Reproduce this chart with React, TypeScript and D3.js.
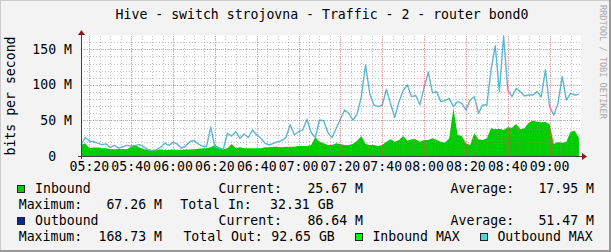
import React from "react";
import * as d3 from "d3";

// ---- data (values in Mbit/s), one sample every 2 minutes starting 05:16 ----
const inbound: number[] = [
  15.5, 18, 11, 12, 12, 11, 11, 10, 9.5, 10, 10, 9.5, 13, 15, 12, 10, 8.5, 8, 8, 9,
  8.5, 8.5, 9, 8.5, 8.5, 9, 9, 9.4, 10.3, 10.8, 10.8, 12.2, 15.5, 12.2, 9.4, 10.8, 16.9, 10.8, 12.2, 10.8,
  10.8, 10.8, 10.8, 10.8, 12.2, 12.2, 13.1, 13.1, 12.2, 13.1, 13.1, 13.1, 14.1, 14.1, 14.1, 15.5, 26.2, 20.2, 17.8, 15.5,
  15.5, 17.8, 16.9, 15.5, 15.5, 16.9, 21.6, 28.1, 16.9, 15.5, 15.5, 14.1, 15.5, 20.2, 23.4, 20.2, 22.5, 28.1, 21.6, 23.4,
  23.4, 20.2, 22.5, 22.5, 24.8, 22.5, 20.2, 18.7, 25, 67.26, 30, 28.1, 17.8, 15.5, 31.9, 23.4, 22.5, 24.8, 38.9, 37.5,
  38.4, 36.6, 40.3, 39.8, 45, 37.5, 38.9, 46.9, 49.7, 48.3, 47.3, 47.8, 44.5, 16.9, 19.7, 18.7, 20.2, 34.2, 35.6, 25.67,
];
const outboundMax: number[] = [
  15.5, 26, 21, 20, 18, 16, 17, 12, 15, 11, 13, 15, 14, 15, 16, 13, 9, 7.5, 9, 12,
  18, 15, 19, 17, 11, 14, 20, 22, 17, 14, 13, 41, 13, 11, 9.4, 32, 28, 34, 25, 31,
  26, 36.6, 29.5, 25, 17.8, 15.5, 17.8, 20, 21.6, 26, 44, 29.5, 34, 36.6, 51.6, 33, 26, 50.6, 49.7, 33,
  25.8, 38.9, 51.6, 64.7, 60, 50.6, 59, 83.4, 128, 88, 71.7, 69.4, 71.7, 93.8, 73, 54.4, 76.4, 92, 100, 83.4,
  85, 72, 96.6, 118, 89, 90.5, 76.4, 77.8, 81, 69.4, 76.4, 74, 64.7, 78.7, 83.4, 60, 71.7, 71.7, 121, 155,
  90.5, 168.73, 92.8, 83.4, 95.2, 90.5, 84.4, 85.8, 85.8, 90.5, 83.4, 121, 69.4, 57.6, 74, 111.6, 78.7, 88, 85.8, 86.64,
];
const startHour = 5;
const startMinute = 16;
const stepMinutes = 2;
const spanMinutes = 239;
const yMax = 168.73;
const yMajorTicks = [0, 50, 100, 150];
const yMinorStep = 10;

const titleText = "Hive - switch strojovna - Traffic - 2 - router bond0";
const yAxisTitle = "bits per second";
const watermark = "RRDTOOL / TOBI OETIKER";

const legendNames = ["Inbound", "Outbound", "Inbound MAX", "Outbound MAX"];
const legendColors = ["#00CF00", "#002A97", "#00FF00", "#4FD6D6"];
const legendCurrent = ["25.67 M", "86.64 M"];
const legendAverage = ["17.95 M", "51.47 M"];
const legendMaximum = ["67.26 M", "168.73 M"];
const legendTotalLabel = ["Total In:", "Total Out:"];
const legendTotal = ["32.31 GB", "92.65 GB"];

const W = 611;
const H = 252;
const L = 81, R = 581, T = 36, B = 156;
const FONT = "'DejaVu Sans Mono', monospace";
const FS = 13.2;

export default function App() {
  const t0 = new Date(2024, 0, 1, startHour, startMinute, 0);
  const t1 = d3.timeMinute.offset(t0, spanMinutes);
  const x = d3.scaleTime().domain([t0, t1]).range([L, R]);
  const y = d3.scaleLinear().domain([0, yMax]).range([B, T]);
  const times = inbound.map((_, i) => d3.timeMinute.offset(t0, i * stepMinutes));

  const area = d3
    .area<number>()
    .x((_, i) => x(times[i]))
    .y0(y(0))
    .y1((d) => y(d));
  const line = d3
    .line<number>()
    .x((_, i) => x(times[i]))
    .y((d) => y(d));

  const majorX = d3.timeMinute.every(20)!.range(t0, t1);
  const minorX = d3.timeMinute.every(5)!.range(t0, t1);
  const minorY = d3.range(yMinorStep, yMax, yMinorStep);
  const fmt = d3.timeFormat("%H:%M");
  const yFmt = (v: number) => (v === 0 ? "0  " : `${v} M`);

  const textStyle: React.CSSProperties = { fontFamily: FONT, fontSize: FS, whiteSpace: "pre" };

  const rowY = [193, 209, 225, 241];

  return (
    <svg
      width={W}
      height={H}
      style={{ position: "absolute", left: 0, top: 0, background: "#F3F3F3" }}
    >
      <rect x={0} y={0} width={W} height={H} fill="#F3F3F3" />
      {/* frame */}
      <line x1={0} y1={0.5} x2={W} y2={0.5} stroke="#CBCBCB" />
      <line x1={0.5} y1={0} x2={0.5} y2={H} stroke="#CBCBCB" />
      <line x1={0} y1={H - 1} x2={W} y2={H - 1} stroke="#999999" strokeWidth={2} />
      <line x1={W - 1} y1={0} x2={W - 1} y2={H} stroke="#999999" strokeWidth={2} />

      {/* title */}
      <text x={322} y={19} textAnchor="middle" style={textStyle} fill="#000">
        {titleText}
      </text>
      {/* watermark */}
      <text
        transform={`translate(600,5) rotate(90)`}
        style={{ fontFamily: FONT, fontSize: 8.6 }}
        fill="#AAAAAA"
      >
        {watermark}
      </text>
      {/* y axis title */}
      <text
        transform={`translate(15,96) rotate(-90)`}
        textAnchor="middle"
        style={textStyle}
        fill="#000"
      >
        {yAxisTitle}
      </text>

      {/* canvas */}
      <rect x={L} y={T - 1} width={R - L} height={B - T + 1} fill="#FFFFFF" />

      {/* data */}
      <path d={area(inbound) || ""} fill="#00CC00" />
      <path d={line(outboundMax) || ""} fill="none" stroke="#5AB8D2" strokeWidth={1.4} strokeLinejoin="round" />

      {/* grid */}
      {minorX.map((t, i) => (
        <line key={"mx" + i} x1={Math.round(x(t)) + 0.5} x2={Math.round(x(t)) + 0.5} y1={T} y2={B}
          stroke="rgba(143,143,143,0.55)" strokeDasharray="1 2" />
      ))}
      {minorY.map((v, i) => (
        <line key={"my" + i} x1={L} x2={R} y1={Math.round(y(v)) + 0.5} y2={Math.round(y(v)) + 0.5}
          stroke="rgba(143,143,143,0.55)" strokeDasharray="1 2" />
      ))}
      {majorX.map((t, i) => (
        <line key={"Mx" + i} x1={Math.round(x(t)) + 0.5} x2={Math.round(x(t)) + 0.5} y1={T} y2={B}
          stroke="rgba(240,64,64,0.42)" strokeDasharray="1 1" />
      ))}
      {yMajorTicks.filter((v) => v > 0).map((v, i) => (
        <line key={"My" + i} x1={L} x2={R} y1={Math.round(y(v)) + 0.5} y2={Math.round(y(v)) + 0.5}
          stroke="rgba(240,64,64,0.42)" strokeDasharray="1 1" />
      ))}

      {/* axes */}
      <line x1={L - 3} x2={R + 2} y1={B + 0.5} y2={B + 0.5} stroke="#404040" />
      <line x1={L + 0.5} x2={L + 0.5} y1={B + 3} y2={T - 3} stroke="#404040" />
      <path d={`M${R + 1},${B - 3} L${R + 6},${B + 0.5} L${R + 1},${B + 4} Z`} fill="#8B1A1A" />
      <path d={`M${L - 3},${T - 1} L${L + 0.5},${T - 6} L${L + 4},${T - 1} Z`} fill="#8B1A1A" />

      {/* tick labels */}
      {majorX.map((t, i) => (
        <text key={"xl" + i} x={x(t)} y={170.5} textAnchor="middle" style={textStyle} fill="#000">
          {fmt(t)}
        </text>
      ))}
      {yMajorTicks.map((v, i) => (
        <text key={"yl" + i} x={72} y={y(v) + 4.5} textAnchor="end" style={textStyle} fill="#000">
          {yFmt(v)}
        </text>
      ))}

      {/* legend */}
      {[0, 1].map((k) => {
        const r1 = rowY[k * 2];
        const r2 = rowY[k * 2 + 1];
        return (
          <g key={"lg" + k} style={textStyle} fill="#000">
            <rect x={17.5} y={r1 - 7.5} width={7} height={7} fill={legendColors[k]} stroke="#222" />
            <text x={35} y={r1} style={textStyle}>{legendNames[k]}</text>
            <text x={218.5} y={r1} style={textStyle}>Current:</text>
            <text x={363} y={r1} textAnchor="end" style={textStyle}>{legendCurrent[k]}</text>
            <text x={450.6} y={r1} style={textStyle}>Average:</text>
            <text x={594} y={r1} textAnchor="end" style={textStyle}>{legendAverage[k]}</text>
            <text x={18.7} y={r2} style={textStyle}>Maximum:</text>
            <text x={162} y={r2} textAnchor="end" style={textStyle}>{legendMaximum[k]}</text>
            <text x={k === 0 ? 180.3 : 183.4} y={r2} style={textStyle}>{legendTotalLabel[k]}</text>
            <text x={k === 0 ? 333.6 : 334.8} y={r2} textAnchor="end" style={textStyle}>{legendTotal[k]}</text>
          </g>
        );
      })}
      <rect x={355.5} y={rowY[3] - 7.5} width={7} height={7} fill={legendColors[2]} stroke="#222" />
      <text x={372.4} y={rowY[3]} style={textStyle} fill="#000">{legendNames[2]}</text>
      <rect x={480.5} y={rowY[3] - 7.5} width={7} height={7} fill={legendColors[3]} stroke="#222" />
      <text x={497.4} y={rowY[3]} style={textStyle} fill="#000">{legendNames[3]}</text>
    </svg>
  );
}
